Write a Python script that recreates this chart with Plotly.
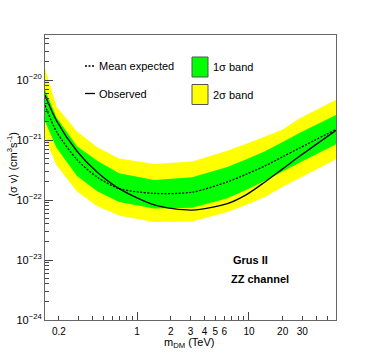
import plotly.graph_objects as go

# dark matter mass (TeV)
mass = [0.15, 0.19, 0.29, 0.44, 0.69, 1.42, 3.1, 6.4, 9.5, 13.9, 20, 28.5, 60]

# <sigma v> limits (cm^3 s^-1)
observed = [5.6e-21, 2.1e-21, 6.5e-22, 2.9e-22, 1.55e-22, 8.3e-23, 6.8e-23, 8.7e-23, 1.23e-22,
            2.0e-22, 3.3e-22, 5.4e-22, 1.45e-21]
expected = [3.8e-21, 1.38e-21, 4.7e-22, 2.4e-22, 1.55e-22, 1.29e-22, 1.35e-22, 2.0e-22, 2.7e-22,
            3.7e-22, 5.25e-22, 7.4e-22, 1.5e-21]
band1_up = [6.8e-21, 2.4e-21, 7.9e-22, 4.5e-22, 2.8e-22, 2.15e-22, 2.4e-22, 3.55e-22, 4.8e-22,
            6.5e-22, 9.3e-22, 1.32e-21, 2.6e-21]
band1_lo = [2.05e-21, 7.4e-22, 2.5e-22, 1.4e-22, 9.3e-23, 7.2e-23, 7.4e-23, 1.07e-22, 1.48e-22,
            2.1e-22, 2.95e-22, 4.2e-22, 8.5e-22]
band2_up = [1.55e-20, 3.6e-21, 1.38e-21, 7.6e-22, 4.9e-22, 4.0e-22, 4.4e-22, 6.6e-22, 8.7e-22,
            1.15e-21, 1.5e-21, 2.3e-21, 4.7e-21]
band2_lo = [1.07e-21, 3.8e-22, 1.38e-22, 7.9e-23, 5.5e-23, 4.3e-23, 4.4e-23, 6.3e-23, 8.3e-23,
            1.12e-22, 1.66e-22, 2.3e-22, 4.8e-22]

x_labels = [0.2, 1, 2, 3, 4, 5, 6, 10, 20, 30]
x_minor = [0.2, 0.3, 0.4, 0.5, 0.6, 0.7, 0.8, 0.9, 2, 3, 4, 5, 6, 7, 8, 9, 20, 30, 40, 50]
y_major = [1e-24, 1e-23, 1e-22, 1e-21, 1e-20]
y_labels = ["10<sup>\u221224</sup>", "10<sup>\u221223</sup>", "10<sup>\u221222</sup>",
            "10<sup>\u221221</sup>", "10<sup>\u221220</sup>"]
y_minor = [k * d for d in y_major for k in range(2, 10) if k * d < 5.6e-20]

FONT = "Liberation Sans, Arial, Helvetica, sans-serif"
GREEN = "#00ff00"
YELLOW = "#ffff00"
DOTS = "2px,1.5px"

fig = go.Figure()

fig.add_trace(go.Scatter(
    x=mass + mass[::-1], y=band2_up + band2_lo[::-1],
    fill="toself", fillcolor=YELLOW, line=dict(width=0), mode="lines",
    hoverinfo="skip", showlegend=False
))
fig.add_trace(go.Scatter(
    x=mass + mass[::-1], y=band1_up + band1_lo[::-1],
    fill="toself", fillcolor=GREEN, line=dict(width=0), mode="lines",
    hoverinfo="skip", showlegend=False
))
fig.add_trace(go.Scatter(
    x=mass, y=expected, mode="lines",
    line=dict(color="black", width=1.3, dash=DOTS, shape="spline", smoothing=0.8),
    showlegend=False
))
fig.add_trace(go.Scatter(
    x=mass, y=observed, mode="lines",
    line=dict(color="black", width=1.3, shape="spline", smoothing=0.8),
    showlegend=False
))
# empty trace to carry the long x ticks axis
fig.add_trace(go.Scatter(x=[], y=[], xaxis="x2", showlegend=False))

L, R, T, B = 45, 336, 35, 320
W, H = R - L, B - T


def px(X):
    return (X - L) / W


def py(Y):
    return (B - Y) / H


xr = [-0.824, 1.778]

# legend drawn by hand, ROOT style
shapes = [
    dict(type="line", xref="paper", yref="paper", x0=px(85), x1=px(95), y0=py(66), y1=py(66),
         line=dict(color="black", width=1.3, dash=DOTS)),
    dict(type="line", xref="paper", yref="paper", x0=px(85), x1=px(95), y0=py(93.5), y1=py(93.5),
         line=dict(color="black", width=1.3)),
    dict(type="rect", xref="paper", yref="paper", x0=px(192), x1=px(208), y0=py(77), y1=py(57),
         fillcolor=GREEN, line=dict(color="#555", width=1)),
    dict(type="rect", xref="paper", yref="paper", x0=px(192), x1=px(208), y0=py(104.5), y1=py(84.5),
         fillcolor=YELLOW, line=dict(color="#555", width=1)),
]

ann_font = dict(family=FONT, size=11, color="black")
annotations = [
    dict(text="Mean expected", x=px(97), y=py(66), xanchor="left", yanchor="middle"),
    dict(text="Observed", x=px(97), y=py(93.5), xanchor="left", yanchor="middle"),
    dict(text="1\u03c3 band", x=px(210.5), y=py(67), xanchor="left", yanchor="middle"),
    dict(text="2\u03c3 band", x=px(210.5), y=py(94.5), xanchor="left", yanchor="middle"),
    dict(text="<b>Grus II</b>", x=px(231), y=py(260), xanchor="left", yanchor="middle"),
    dict(text="<b>ZZ channel</b>", x=px(229), y=py(279), xanchor="left", yanchor="middle"),
    dict(text="m<sub>DM</sub> (TeV)", x=px(189), y=py(343), xanchor="center", yanchor="middle"),
    dict(text="\u27e8\u03c3 v\u27e9 (cm<sup>3</sup>s<sup>-1</sup>)", x=px(12), y=py(165),
         xanchor="center", yanchor="middle", textangle=-90),
]
for a in annotations:
    a.update(xref="paper", yref="paper", showarrow=False, font=ann_font)

fig.update_layout(
    width=374, height=356,
    margin=dict(l=L, r=374 - R, t=T, b=356 - B),
    paper_bgcolor="white", plot_bgcolor="white",
    font=dict(family=FONT, size=11, color="black"),
    shapes=shapes, annotations=annotations,
    xaxis=dict(
        type="log", range=xr, tickvals=x_labels, ticktext=[str(v) for v in x_labels],
        ticks="", showgrid=False, zeroline=False,
        showline=True, linecolor="#666", linewidth=1, mirror=True,
        tickfont=dict(size=10), ticklabelstandoff=2
    ),
    xaxis2=dict(
        type="log", range=xr, overlaying="x", anchor="y", side="bottom",
        tickvals=[1, 10], ticks="inside", ticklen=8, tickcolor="#444",
        showticklabels=False, showgrid=False, zeroline=False, showline=False,
        minor=dict(tickvals=x_minor, ticks="inside", ticklen=4, tickcolor="#444", showgrid=False)
    ),
    yaxis=dict(
        type="log", range=[-24, -19.25], tickvals=y_major, ticktext=y_labels,
        ticks="inside", ticklen=8, tickcolor="#444", showgrid=False, zeroline=False,
        showline=True, linecolor="#666", linewidth=1, mirror=True,
        tickfont=dict(size=11),
        minor=dict(tickvals=y_minor, ticks="inside", ticklen=4, tickcolor="#444", showgrid=False)
    ),
)

# the page's default body margin would push the 374x356 figure off-window
fig.write_html("out.html", config={"displayModeBar": False},
               post_script="document.body.style.margin = '0px';")
